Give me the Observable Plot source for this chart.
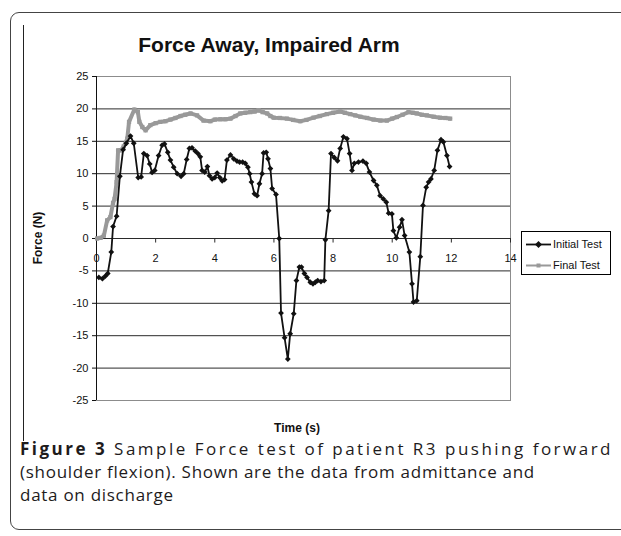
<!DOCTYPE html>
<html>
<head>
<meta charset="utf-8">
<script src="https://cdn.jsdelivr.net/npm/d3@7"></script>
<script src="https://cdn.jsdelivr.net/npm/@observablehq/plot@0.6"></script>
<style>
  html, body { margin: 0; padding: 0; background: #fff; }
  #page { position: relative; width: 621px; height: 536px; overflow: hidden; background: #fff; }
  #outer { position: absolute; left: 10px; top: 12px; width: 640px; height: 518px; border: 1px solid #444; border-radius: 9px; box-sizing: border-box; }
  #edge { position: absolute; left: 23px; top: 25px; width: 1px; height: 416px; background: #222; }
  #chart { position: absolute; left: 0; top: 0; }
  #title { position: absolute; left: 0; width: 538px; top: 33px; text-align: center; font: bold 21px "Liberation Sans", Arial, sans-serif; color: #111; }
  #ylab { position: absolute; left: 38px; top: 238px; transform: translate(-50%, -50%) rotate(-90deg); font: bold 12px "Liberation Sans", Arial, sans-serif; white-space: nowrap; color: #111; }
  #xlab { position: absolute; left: 297px; top: 428px; transform: translate(-50%, -50%); font: bold 12px "Liberation Sans", Arial, sans-serif; white-space: nowrap; color: #111; }
  #legend { position: absolute; left: 521px; top: 231px; width: 90px; height: 44px; border: 1px solid #000; box-sizing: border-box; background: #fff; font: 11px "Liberation Sans", Arial, sans-serif; color: #111; }
  .lrow { position: absolute; left: 4px; height: 12px; display: flex; align-items: center; white-space: nowrap; }
  .lrow svg { margin-right: 1px; }
  #caption { position: absolute; left: 20px; top: 437px; width: 600px; font: 17px "Open Sans", "Noto Sans", sans-serif; line-height: 23px; color: #1e1b1c; white-space: nowrap; }
  #caption b { font-weight: bold; }
  #caption span { white-space: nowrap; }
</style>
</head>
<body>
<div id="page">
  <div id="outer"></div>
  <div id="edge"></div>
  <div id="chart"></div>
  <div id="title"></div>
  <div id="ylab"></div>
  <div id="xlab"></div>
  <div id="legend"></div>
  <div id="caption"></div>
</div>
<script>
// ---- Data ----
const chartTitle = "Force Away, Impaired Arm";
const xLabel = "Time (s)";
const yLabel = "Force (N)";
const seriesNames = ["Initial Test", "Final Test"];
const xTicks = [0, 2, 4, 6, 8, 10, 12, 14];
const yTicks = [-25, -20, -15, -10, -5, 0, 5, 10, 15, 20, 25];
const gridValues = [-20, -15, -10, -5, 0, 5, 10, 15, 20];

const initialTime = [
  0.08, 0.2, 0.3, 0.38, 0.5, 0.56, 0.68, 0.79, 0.9, 1.01,
  1.15, 1.26, 1.41, 1.51, 1.6, 1.71, 1.8, 1.88, 1.97, 2.1,
  2.22, 2.3, 2.41, 2.5, 2.61, 2.73, 2.86, 2.95, 3.05, 3.14,
  3.23, 3.34, 3.43, 3.51, 3.57, 3.66, 3.75, 3.82, 3.91, 4.0,
  4.08, 4.17, 4.25, 4.33, 4.41, 4.53, 4.64, 4.75, 4.84, 4.94,
  5.03, 5.12, 5.18, 5.24, 5.34, 5.43, 5.51, 5.6, 5.65, 5.74,
  5.8, 5.88, 5.94, 6.07, 6.18, 6.24, 6.36, 6.47, 6.55, 6.67,
  6.76, 6.86, 6.93, 7.03, 7.12, 7.23, 7.32, 7.4, 7.48, 7.59,
  7.7, 7.74, 7.85, 7.93, 8.04, 8.15, 8.24, 8.35, 8.47, 8.56,
  8.64, 8.72, 8.86, 9.01, 9.12, 9.23, 9.37, 9.48, 9.59, 9.7,
  9.8, 9.88, 9.99, 10.04, 10.14, 10.25, 10.33, 10.42, 10.58, 10.67,
  10.72, 10.83, 10.95, 11.04, 11.15, 11.23, 11.31, 11.42, 11.53, 11.65,
  11.73, 11.85, 11.94
];
const initialForce = [
  -6.0, -6.2, -5.8, -5.4, -2.1, 1.85, 3.45, 9.6, 13.7, 14.7,
  15.8, 14.7, 9.4, 9.5, 13.1, 12.8, 11.5, 10.2, 10.5, 12.8,
  14.4, 14.6, 13.3, 12.1, 11.0, 10.0, 9.6, 10.0, 12.2, 13.9,
  14.0, 13.5, 13.1, 12.6, 10.5, 10.25, 11.1, 9.7, 9.2, 9.4,
  10.1, 9.4, 8.9, 9.1, 12.1, 12.9, 12.3, 11.95, 11.8, 11.8,
  11.6, 11.0, 10.0, 8.7, 6.9, 6.6, 8.45, 10.0, 13.2, 13.3,
  12.3, 10.8, 7.7, 6.8, 0.0, -11.5, -15.3, -18.6, -14.7, -11.6,
  -6.5, -4.4, -4.4, -5.4, -6.0, -6.75, -7.0, -6.75, -6.5, -6.65,
  -6.5, -0.2, 4.3, 13.1, 12.5, 12.0, 13.9, 15.7, 15.4, 13.1,
  10.5, 11.6, 11.8, 11.95, 11.6, 10.25, 8.95, 8.2, 6.6, 6.1,
  5.6, 3.9, 3.8, 1.2, 0.1, 1.75, 2.9, 0.45, -2.1, -7.0,
  -9.8, -9.6, -2.8, 5.1, 7.9, 8.7, 9.2, 10.5, 13.6, 15.25,
  14.9, 12.8, 11.1
];

const finalTime = [
  0.02, 0.14, 0.25, 0.36, 0.47, 0.56, 0.61, 0.68, 0.73, 0.83,
  0.92, 1.04, 1.1, 1.28, 1.4, 1.45, 1.55, 1.66, 1.82, 2.0,
  2.16, 2.33, 2.5, 2.67, 2.84, 3.0, 3.18, 3.4, 3.62, 3.85,
  4.0, 4.19, 4.36, 4.53, 4.7, 4.86, 5.03, 5.2, 5.35, 5.48,
  5.62, 5.77, 5.88, 5.99, 6.2, 6.44, 6.65, 6.89, 7.1, 7.34,
  7.55, 7.79, 8.0, 8.24, 8.4, 8.58, 8.75, 8.92, 9.15, 9.37,
  9.6, 9.82, 10.0, 10.16, 10.35, 10.55, 10.7, 10.83, 11.0, 11.17,
  11.4, 11.62, 11.8, 11.96
];
const finalForce = [
  0.0, 0.1, 0.45, 2.8, 3.3, 5.5, 6.1, 8.7, 13.6, 13.6,
  14.2, 15.4, 18.0, 19.9, 19.5, 18.0, 17.2, 16.7, 17.5, 17.8,
  18.0, 18.1, 18.35, 18.6, 18.9, 19.1, 19.3, 19.0, 18.2, 18.1,
  18.35, 18.4, 18.4, 18.5, 18.9, 19.3, 19.4, 19.5, 19.6, 19.8,
  19.5, 19.3, 18.9, 18.65, 18.6, 18.5, 18.3, 18.1, 18.3, 18.65,
  18.9, 19.2, 19.4, 19.6, 19.4, 19.2, 19.0, 18.8, 18.6, 18.35,
  18.2, 18.2, 18.5, 18.75, 19.1, 19.5, 19.4, 19.3, 19.1, 19.0,
  18.8, 18.65, 18.6, 18.5
];

const captionBold = "Figure 3";
const captionLines = [
  " Sample Force test of patient R3 pushing forward",
  "(shoulder flexion). Shown are the data from admittance and",
  "data on discharge"
];

// ---- Build ----
const initial = initialTime.map((t, i) => ({t, f: initialForce[i]}));
const final = finalTime.map((t, i) => ({t, f: finalForce[i]}));
const colors = {"Initial Test": "#111", "Final Test": "#999"};

const chart = Plot.plot({
  width: 621,
  height: 440,
  marginTop: 76,
  marginBottom: 40,
  marginLeft: 96,
  marginRight: 111,
  x: {domain: [0, 14], axis: null},
  y: {domain: [-25, 25]},
  style: {fontFamily: "'Liberation Sans', Arial, sans-serif", fontSize: "11px", color: "#111", background: "transparent"},
  marks: [
    Plot.frame({stroke: "#8c8c8c"}),
    Plot.ruleY(gridValues, {stroke: "#2a2a2a", strokeWidth: 1}),
    Plot.ruleX(xTicks, {y1: 0, y2: -0.7, stroke: "#2a2a2a"}),
    Plot.text(xTicks, {x: d => d, y: 0, dy: 20, text: d => String(d), fill: "#111"}),
    Plot.axisY({ticks: yTicks, tickSize: 4, tickPadding: 4, label: null, tickFormat: d => String(d), stroke: "#111"}),
    Plot.ruleX([0], {stroke: "#111"}),
    Plot.line(final, {x: "t", y: "f", stroke: colors["Final Test"], strokeWidth: 4}),
    Plot.dot(final, {x: "t", y: "f", symbol: "square", fill: colors["Final Test"], r: 2.4}),
    Plot.line(initial, {x: "t", y: "f", stroke: colors["Initial Test"], strokeWidth: 1.8}),
    Plot.dot(initial, {x: "t", y: "f", symbol: "diamond2", fill: colors["Initial Test"], r: 2.6})
  ]
});
document.getElementById("chart").appendChild(chart);

document.getElementById("title").textContent = chartTitle;
document.getElementById("ylab").textContent = yLabel;
document.getElementById("xlab").textContent = xLabel;

// Legend
const legend = document.getElementById("legend");
seriesNames.forEach((name, i) => {
  const row = document.createElement("div");
  row.className = "lrow";
  row.style.top = (6 + i * 21) + "px";
  const isInit = name === "Initial Test";
  const c = colors[name];
  const marker = isInit
    ? `<rect x="10" y="3" width="5" height="5" transform="rotate(45 12.5 5.5)" fill="${c}"/>`
    : `<rect x="10.5" y="3.5" width="4" height="4" fill="${c}"/>`;
  row.innerHTML = `<svg width="26" height="11"><line x1="0" x2="25" y1="5.5" y2="5.5" stroke="${c}" stroke-width="${isInit ? 1.8 : 2}"/>${marker}</svg><span>${name}</span>`;
  legend.appendChild(row);
});

// Caption: natural width set by line 2, line 1 justified (letter-spaced) to full width
const cap = document.getElementById("caption");
const htmls = [`<b>${captionBold}</b>${captionLines[0]}`, captionLines[1], captionLines[2]];
const spans = htmls.map(h => {
  const d = document.createElement("div");
  const s = document.createElement("span");
  s.innerHTML = h;
  d.appendChild(s);
  cap.appendChild(d);
  return s;
});
const w2 = spans[1].getBoundingClientRect().width;
const ls = (515 - w2) / captionLines[1].length;
cap.style.letterSpacing = ls.toFixed(3) + "px";
const w1 = spans[0].getBoundingClientRect().width;
const n1 = (captionBold + captionLines[0]).length;
spans[0].style.letterSpacing = (ls + (593 - w1) / n1).toFixed(3) + "px";
</script>
</body>
</html>
